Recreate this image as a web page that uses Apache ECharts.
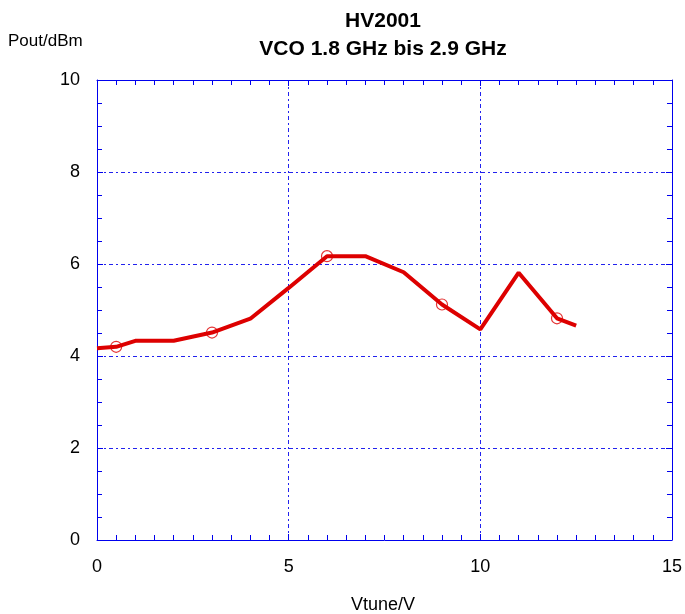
<!DOCTYPE html>
<html>
<head>
<meta charset="utf-8">
<script src="https://cdn.jsdelivr.net/npm/echarts@6/dist/echarts.min.js"></script>
<style>
  html, body { margin: 0; padding: 0; background: #fff; }
  #chart { width: 685px; height: 614px; }
</style>
</head>
<body>
<div id="chart"></div>
<script>
// Pout vs. Vtune
const vtune = [0, 0.5, 1, 2, 3, 4, 5, 6, 7, 8, 9, 10, 11, 12, 12.5];
const pout = [4.17, 4.2, 4.33, 4.33, 4.51, 4.81, 5.48, 6.17, 6.17, 5.82, 5.12, 4.58, 5.81, 4.82, 4.66];
// measured points (hollow markers)
const markVtune = [0.5, 3, 6, 9, 12];
const markPout = [4.2, 4.51, 6.17, 5.12, 4.82];

const blue = "#0000ee";
const red = "#dd0000";
const font = "Liberation Sans, Arial, sans-serif";

const chart = echarts.init(document.getElementById("chart"));

const gridLine = {show: true, lineStyle: {color: "#2222ee", width: 1, type: [4, 3, 2, 3]}};
const frameAxis = (extra) => Object.assign({
  axisLine: {show: true, onZero: false, lineStyle: {color: blue, width: 1}},
  axisTick: {show: true, inside: true, length: 6, lineStyle: {color: blue}},
  minorTick: {show: true, length: 5, lineStyle: {color: blue}},
}, extra);

chart.setOption({
  animation: false,
  backgroundColor: "#fff",
  grid: {left: 97, right: 12, top: 80, bottom: 74, containLabel: false},
  graphic: [
    {type: "text", left: 8, top: 33, style: {text: "Pout/dBm", font: "17px " + font, fill: "#000"}},
    {type: "text", x: 383, y: 21, style: {text: "HV2001", font: "bold 21px " + font, fill: "#000", align: "center", verticalAlign: "middle"}},
    {type: "text", x: 383, y: 49, style: {text: "VCO 1.8 GHz bis 2.9 GHz", font: "bold 21px " + font, fill: "#000", align: "center", verticalAlign: "middle"}},
    {type: "text", x: 383, y: 605, style: {text: "Vtune/V", font: "18px " + font, fill: "#000", align: "center", verticalAlign: "middle"}},
  ],
  xAxis: [
    frameAxis({
      type: "value", min: 0, max: 15, interval: 5, position: "bottom",
      minorTick: {show: true, splitNumber: 10, length: 5, lineStyle: {color: blue}},
      axisLabel: {color: "#000", fontSize: 18, fontFamily: font, margin: 18},
      splitLine: gridLine,
    }),
    frameAxis({
      type: "value", min: 0, max: 15, interval: 5, position: "top",
      minorTick: {show: true, splitNumber: 10, length: 5, lineStyle: {color: blue}},
      axisLabel: {show: false}, splitLine: {show: false},
    }),
  ],
  yAxis: [
    frameAxis({
      type: "value", min: 0, max: 10, interval: 2, position: "left",
      minorTick: {show: true, splitNumber: 4, length: 5, lineStyle: {color: blue}},
      axisLabel: {color: "#000", fontSize: 18, fontFamily: font, margin: 17},
      splitLine: gridLine,
    }),
    frameAxis({
      type: "value", min: 0, max: 10, interval: 2, position: "right",
      minorTick: {show: true, splitNumber: 4, length: 5, lineStyle: {color: blue}},
      axisLabel: {show: false}, splitLine: {show: false},
    }),
  ],
  series: [
    {
      type: "line",
      data: vtune.map((v, i) => [v, pout[i]]),
      showSymbol: false,
      symbol: "none",
      lineStyle: {color: red, width: 4},
      z: 3,
    },
    {
      type: "scatter",
      data: markVtune.map((v, i) => [v, markPout[i]]),
      symbol: "circle",
      symbolSize: 11,
      itemStyle: {color: "rgba(255,255,255,0)", borderColor: red, borderWidth: 1.2},
      z: 4,
    },
  ],
});
</script>
</body>
</html>
